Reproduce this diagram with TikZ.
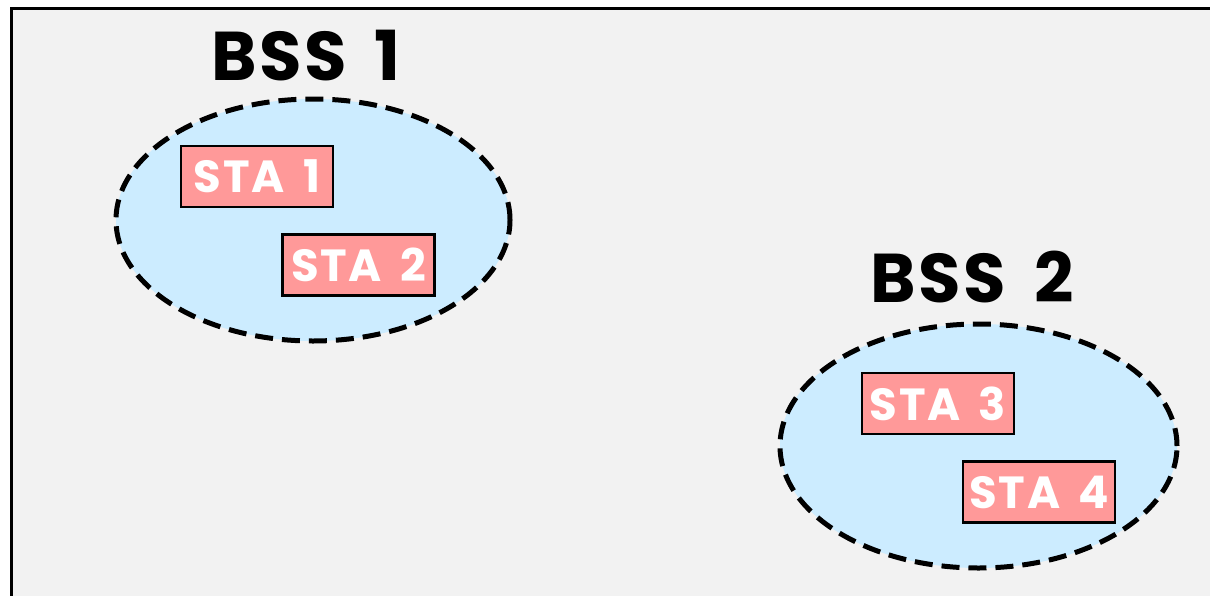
\documentclass[tikz,border=0pt]{standalone}
\usepackage{fontspec}
\setmainfont{Poppins}[LetterSpace=4, WordSpace=1.6]
\usetikzlibrary{shapes.geometric}

\definecolor{pagegray}{RGB}{242,242,242}
\definecolor{bssblue}{RGB}{204,236,255}
\definecolor{stapink}{RGB}{255,153,153}

\tikzset{
	bss/.style={draw=black, fill=bssblue, ellipse, line width=5pt, dash pattern=on 18pt off 9pt, inner sep=0pt},
	sta/.style={draw=black, fill=stapink, line width=2.2pt, minimum width=152pt, minimum height=61pt, inner sep=0pt,
		text=white, font=\fontsize{45}{45}\selectfont\bfseries},
	bsslabel/.style={font=\fontsize{69}{69}\selectfont\bfseries, text=black, inner sep=0pt}
}

\begin{document}
\begin{tikzpicture}[x=1pt, y=-1pt]
			%%%%% START %%%%%
			\clip (0, 0) rectangle (1210, 595);
			\fill[white] (0, 0) rectangle (1210, 595);
			\draw[fill=pagegray, line width=3pt] (11, 8) rectangle (1230, 620);
			
			% first cell
			\node[bss, minimum width=394pt, minimum height=242pt] (bss1) at (313, 220) {};
			\node[bsslabel] (lbl1) at (306, 56) {BSS 1};
			\node[sta] (sta1) at (257, 176.5) {STA 1};
			\node[sta] (sta2) at (358.5, 265) {STA 2};
			
			% second cell
			\node[bss, minimum width=397pt, minimum height=244pt] (bss2) at (978.5, 446) {};
			\node[bsslabel] (lbl2) at (972, 277) {BSS 2};
			\node[sta] (sta3) at (938, 403.5) {STA 3};
			\node[sta] (sta4) at (1039, 492) {STA 4};
			%%%%% END %%%%%
\end{tikzpicture}
\end{document}
